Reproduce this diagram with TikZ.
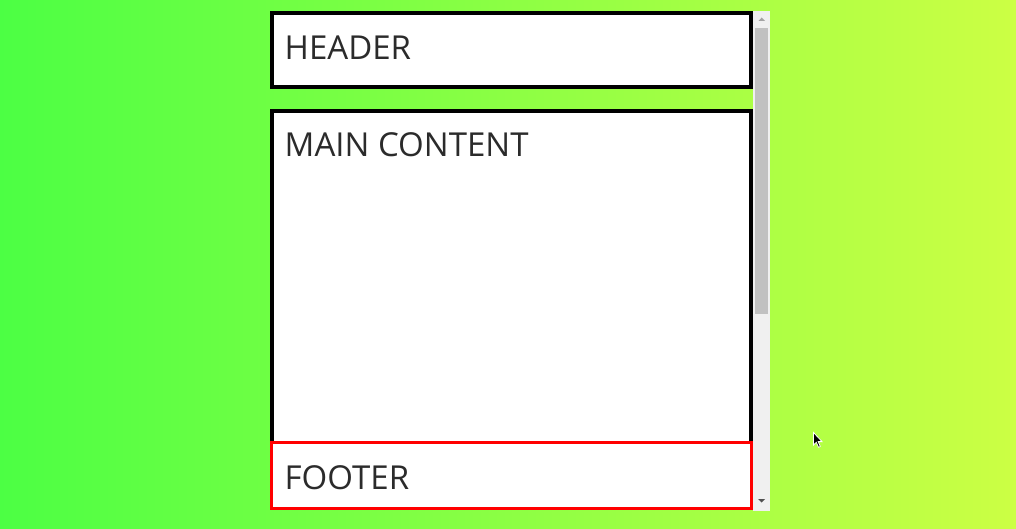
\documentclass[tikz,border=0pt]{standalone}
\usepackage{fontspec}
\setmainfont{Open Sans}
\definecolor{bgL}{RGB}{76,255,68}
\definecolor{bgR}{RGB}{204,255,68}
\definecolor{txt}{RGB}{43,43,43}
\definecolor{sbtrack}{RGB}{240,240,240}
\definecolor{sbthumb}{RGB}{193,193,193}
\definecolor{sbup}{RGB}{163,163,163}
\definecolor{sbdown}{RGB}{80,80,80}
\tikzset{
  panel/.style={draw=black, line width=4pt, fill=white},
  footpanel/.style={draw=red, line width=3.3pt, fill=white},
  label/.style={anchor=base west, inner sep=0pt, text=txt, font=\fontsize{33}{33}\selectfont},
}
\begin{document}
\begin{tikzpicture}[x=1pt,y=-1pt]
\useasboundingbox (0,0) rectangle (1016,529);
\shade[left color=bgL, right color=bgR] (0,0) rectangle (1016,529);
% scrollbar
\fill[sbtrack] (753,11) rectangle (770,511);
\fill[sbthumb] (755,28) rectangle (768,314);
\fill[sbup] (758.5,21) -- (765,21) -- (761.7,17.5) -- cycle;
\fill[sbdown] (758,499) -- (765,499) -- (761.5,502.5) -- cycle;
% boxes
\draw[panel] (272,13) rectangle (751,87);
\node[label] (header) at (284.5,60) {HEADER};
\draw[panel] (272,111) rectangle (751,460);
\node[label] (main) at (284.5,157) {MAIN CONTENT};
\draw[footpanel] (271.5,442.5) rectangle (751.5,508.5);
\node[label] (footer) at (284.5,489) {FOOTER};
% cursor
\filldraw[fill=black, draw=white, line width=0.8pt, line join=miter]
  (813.5,432.5) -- (813.5,445) -- (816.3,442.3) -- (818.5,447.3) -- (820.3,446.5) -- (818.2,441.6) -- (822,441.6) -- cycle;
\end{tikzpicture}
\end{document}
